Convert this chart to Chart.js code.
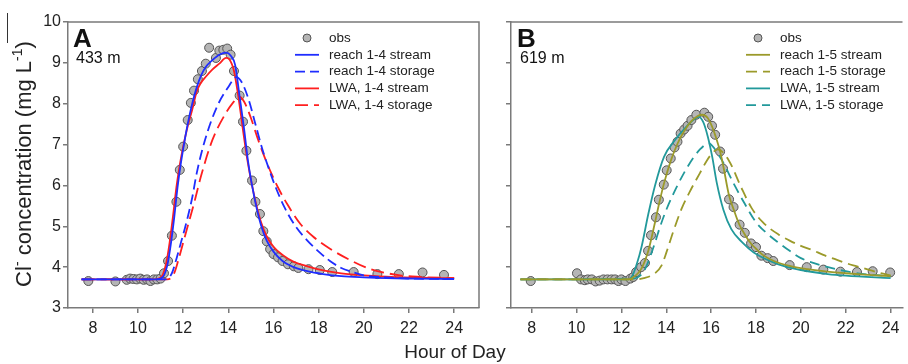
<!DOCTYPE html>
<html>
<head>
<meta charset="utf-8">
<script src="https://cdn.jsdelivr.net/npm/chart.js@4.4.1/dist/chart.umd.min.js"></script>
<style>
  body { margin: 0; background: #fff; width: 908px; height: 364px; overflow: hidden; position: relative;
         font-family: "Liberation Sans", Arial, sans-serif; color: #222; }
  #boxA { position: absolute; left: 0; top: 0; width: 490px; height: 364px; }
  #boxB { position: absolute; left: 490px; top: 0; width: 418px; height: 364px; }
  #ytitle { position: absolute; left: 23px; top: 164px; transform: translate(-50%, -50%) rotate(-90deg);
            font-size: 22px; white-space: nowrap; }
  #ytitle sup { font-size: 14px; }
  #xtitle { position: absolute; left: 455px; top: 352px; transform: translate(-50%, -50%); font-size: 19px; white-space: nowrap; }
  #mark { position: absolute; left: 7px; top: 13px; width: 1px; height: 30px; background: #333; }
</style>
</head>
<body>
<div id="boxA"><canvas id="chartA" width="490" height="364"></canvas></div>
<div id="boxB"><canvas id="chartB" width="418" height="364"></canvas></div>
<div id="ytitle">Cl<sup>-</sup> concentration (mg L<sup>-1</sup>)</div>
<div id="mark"></div>
<div id="xtitle">Hour of Day</div>
<script>
// ---- panel A (433 m) ----
const obsA_hour = [7.8, 9.0, 9.5, 9.65, 9.8, 9.95, 10.1, 10.25, 10.4, 10.55, 10.7, 10.85, 11.0, 11.15, 11.33, 11.5,
  11.7, 11.85, 12.0, 12.2, 12.34, 12.48, 12.65, 12.83, 13.0, 13.15, 13.45, 13.6, 13.78, 13.95, 14.1, 14.25, 14.5,
  14.65, 14.8, 15.05, 15.2, 15.4, 15.55, 15.7, 15.85, 16.0, 16.2, 16.4, 16.64, 16.9, 17.1, 17.55, 18.05, 18.6,
  19.55, 20.6, 21.55, 22.6, 23.55];
const obsA_cl = [3.66, 3.65, 3.69, 3.72, 3.71, 3.7, 3.72, 3.69, 3.7, 3.66, 3.7, 3.7, 3.72, 3.85, 4.15, 4.77,
  5.6, 6.38, 6.95, 7.6, 8.02, 8.32, 8.6, 8.8, 8.98, 9.37, 9.12, 9.3, 9.32, 9.35, 9.2, 8.8, 8.2,
  7.56, 6.85, 6.12, 5.6, 5.3, 4.88, 4.63, 4.44, 4.32, 4.24, 4.15, 4.07, 4.02, 3.98, 3.95, 3.93, 3.88,
  3.88, 3.83, 3.83, 3.87, 3.81];

const reachA_stream_hour = [7.5, 10.8, 11.0, 11.15, 11.3, 11.45, 11.6, 11.75, 11.9, 12.05, 12.2, 12.4, 12.6, 12.8,
  13.0, 13.3, 13.6, 13.9, 14.1, 14.3, 14.5, 14.7, 14.87, 15.05, 15.25, 15.45, 15.7, 16.0, 16.4, 16.9, 17.5, 18.2,
  19, 20, 21, 22.5, 24];
const reachA_stream_cl = [3.7, 3.7, 3.72, 3.8, 4.05, 4.55, 5.2, 5.95, 6.55, 7.05, 7.5, 8.0, 8.4, 8.7,
  8.9, 9.07, 9.2, 9.25, 9.18, 8.95, 8.17, 7.37, 6.6, 6.0, 5.45, 5.02, 4.65, 4.38, 4.15, 4.0, 3.9, 3.83,
  3.78, 3.75, 3.73, 3.72, 3.71];

const reachA_storage_hour = [7.5, 11.2, 11.5, 11.7, 11.9, 12.1, 12.4, 12.6, 12.96, 13.5, 14.0, 14.35, 14.6, 14.9,
  15.2, 15.5, 15.8, 16.1, 16.5, 17.0, 17.5, 18.0, 18.5, 19.0, 19.5, 20.0, 21.0, 22.0, 24.0];
const reachA_storage_cl = [3.7, 3.7, 3.85, 4.2, 4.6, 5.0, 5.7, 6.3, 7.1, 7.93, 8.41, 8.65, 8.52, 8.1,
  7.5, 6.9, 6.4, 5.95, 5.45, 4.98, 4.65, 4.38, 4.15, 3.98, 3.88, 3.8, 3.75, 3.72, 3.71];

const lwaA_stream_hour = [7.5, 10.7, 10.95, 11.1, 11.25, 11.4, 11.55, 11.7, 11.85, 12.0, 12.2, 12.4, 12.6, 12.8,
  13.0, 13.3, 13.6, 13.9, 14.05, 14.25, 14.45, 14.65, 14.85, 15.05, 15.25, 15.45, 15.7, 16.0, 16.4, 16.9, 17.5,
  18.2, 19, 20, 21, 22.5, 24];
const lwaA_stream_cl = [3.7, 3.7, 3.73, 3.82, 4.1, 4.6, 5.25, 5.95, 6.5, 6.95, 7.45, 7.85, 8.3, 8.52,
  8.66, 8.84, 8.98, 9.12, 9.08, 8.8, 8.15, 7.35, 6.6, 6.0, 5.5, 5.1, 4.75, 4.5, 4.3, 4.13, 4.02,
  3.92, 3.85, 3.8, 3.77, 3.74, 3.73];

const lwaA_storage_hour = [7.5, 11.3, 11.6, 11.8, 12.0, 12.2, 12.5, 12.8, 13.3, 13.9, 14.2, 14.47, 14.7, 15.0,
  15.3, 15.6, 15.9, 16.2, 16.6, 17.2, 17.75, 18.5, 19.3, 20.3, 21.6, 22.5, 24.0];
const lwaA_storage_cl = [3.7, 3.7, 3.85, 4.2, 4.6, 5.0, 5.6, 6.25, 7.12, 7.78, 8.02, 8.17, 8.05, 7.65,
  7.15, 6.7, 6.3, 5.95, 5.55, 5.05, 4.75, 4.45, 4.2, 3.95, 3.8, 3.76, 3.73];

// ---- panel B (619 m) ----
const obsB_hour = [7.96, 10.02, 10.2, 10.37, 10.5, 10.68, 10.85, 11.03, 11.2, 11.38, 11.56, 11.72, 11.87, 12.0,
  12.18, 12.4, 12.53, 12.66, 12.88, 13.05, 13.19, 13.32, 13.54, 13.67, 13.89, 14.02, 14.2, 14.37, 14.5, 14.64,
  14.8, 14.95, 15.12, 15.34, 15.7, 15.87, 16.04, 16.18, 16.4, 16.53, 16.8, 17.0, 17.27, 17.5, 17.78, 18.0,
  18.24, 18.52, 18.77, 19.5, 20.26, 21.0, 21.76, 22.5, 23.2, 23.98];
const obsB_cl = [3.66, 3.85, 3.7, 3.68, 3.7, 3.7, 3.65, 3.67, 3.7, 3.7, 3.7, 3.7, 3.66, 3.7,
  3.66, 3.72, 3.76, 3.88, 4.0, 4.1, 4.4, 4.78, 5.22, 5.65, 6.02, 6.37, 6.66, 6.93, 7.07, 7.27,
  7.37, 7.46, 7.6, 7.73, 7.78, 7.68, 7.46, 7.24, 6.83, 6.41, 5.66, 5.47, 5.04, 4.84, 4.58, 4.49,
  4.28, 4.22, 4.15, 4.05, 4.0, 3.94, 3.89, 3.88, 3.9, 3.87];

const reachB_stream_hour = [7.5, 12.3, 12.6, 12.9, 13.2, 13.5, 13.7, 13.9, 14.2, 14.5, 14.8, 15.1, 15.4, 15.6,
  15.85, 16.05, 16.2, 16.4, 16.55, 16.8, 17.0, 17.25, 17.5, 17.8, 18.0, 18.3, 18.8, 19.5, 20.3, 21, 22, 23, 24];
const reachB_stream_cl = [3.7, 3.7, 3.78, 3.97, 4.4, 5.1, 5.6, 6.05, 6.6, 7.02, 7.33, 7.56, 7.7, 7.73,
  7.65, 7.43, 7.2, 6.83, 6.45, 5.75, 5.42, 5.05, 4.8, 4.56, 4.45, 4.3, 4.15, 4.03, 3.95, 3.9, 3.85, 3.81, 3.78];

const reachB_storage_hour = [7.5, 12.5, 13.0, 13.5, 13.8, 14.0, 14.3, 14.7, 15.1, 15.5, 15.8, 16.1, 16.3, 16.8,
  17.3, 17.8, 18.3, 19.0, 19.5, 20.0, 20.5, 21.0, 21.5, 22.0, 22.5, 23.0, 23.5, 24.0];
const reachB_storage_cl = [3.7, 3.7, 3.73, 3.85, 4.05, 4.35, 4.85, 5.45, 5.9, 6.3, 6.6, 6.82, 6.88, 6.6,
  6.0, 5.45, 5.1, 4.8, 4.65, 4.52, 4.42, 4.3, 4.2, 4.1, 4.02, 3.94, 3.86, 3.8];

const lwaB_stream_hour = [7.5, 12.3, 12.5, 12.7, 12.9, 13.2, 13.5, 13.9, 14.4, 14.9, 15.2, 15.45, 15.65, 15.85,
  16.05, 16.25, 16.55, 16.9, 17.4, 17.9, 19, 20, 21.2, 22, 24];
const lwaB_stream_cl = [3.7, 3.7, 3.8, 4.1, 4.5, 5.3, 6.0, 6.7, 7.12, 7.44, 7.6, 7.68, 7.55, 7.2,
  6.7, 6.07, 5.4, 4.93, 4.6, 4.36, 4.07, 3.93, 3.83, 3.79, 3.73];

const lwaB_storage_hour = [7.5, 12.5, 13.0, 13.5, 13.7, 14.0, 14.5, 15.0, 15.5, 15.9, 16.0, 16.5, 17.0, 17.5,
  18.0, 18.5, 19.0, 19.5, 20.0, 21.0, 22.0, 23.0, 24.0];
const lwaB_storage_cl = [3.7, 3.72, 3.9, 4.6, 4.95, 5.4, 6.0, 6.5, 6.88, 7.03, 7.0, 6.6, 6.05, 5.55,
  5.1, 4.82, 4.6, 4.4, 4.22, 4.03, 3.9, 3.82, 3.78];

const yTicks = [3, 4, 5, 6, 7, 8, 9, 10];
const xTicks = [8, 10, 12, 14, 16, 18, 20, 22, 24];

const BLUE = "#1f2dff", RED = "#ff1f1f", OLIVE = "#9b9a2a", TEAL = "#22999b";
const AXIS = "#7a7a7a";

Chart.defaults.font.family = '"Liberation Sans", Arial, sans-serif';
Chart.defaults.color = "#222";

function pts(xs, ys) {
  return xs.map((x, i) => ({ x: x, y: ys[i] }));
}

function obsSet(label, xs, ys) {
  return {
    label: label, data: pts(xs, ys), showLine: false, order: 1,
    pointRadius: 4.5, pointHoverRadius: 4.5, pointBackgroundColor: "#b5b5b5",
    pointBorderColor: "#555", pointBorderWidth: 1
  };
}

function lineSet(label, xs, ys, color, dash) {
  return {
    label: label, data: pts(xs, ys), order: 0,
    borderColor: color, borderWidth: 1.8, borderDash: dash || [],
    pointRadius: 0, cubicInterpolationMode: "monotone", fill: false
  };
}

// frame, panel letter and legend
const decor = {
  id: "decor",
  afterDraw(chart, args, o) {
    const ctx = chart.ctx, a = chart.chartArea;
    ctx.save();
    ctx.strokeStyle = AXIS;
    ctx.lineWidth = 1.5;
    ctx.beginPath();
    ctx.moveTo(a.left, a.top);
    ctx.lineTo(a.right, a.top);
    if (o.rightBorder) ctx.lineTo(a.right, a.bottom);
    ctx.stroke();

    ctx.fillStyle = "#111";
    ctx.textBaseline = "alphabetic";
    ctx.font = 'bold 26px "Liberation Sans", Arial, sans-serif';
    ctx.fillText(o.letter, o.letterX, 47);
    ctx.font = '16px "Liberation Sans", Arial, sans-serif';
    ctx.fillText(o.dist, o.letterX + 3, 63);

    ctx.font = '13.5px "Liberation Sans", Arial, sans-serif';
    ctx.textBaseline = "middle";
    chart.data.datasets.forEach((ds, i) => {
      const y = 38 + i * 16.8;
      if (ds.showLine === false) {
        ctx.beginPath();
        ctx.arc(o.legX + 12, y, 4, 0, Math.PI * 2);
        ctx.fillStyle = "#b5b5b5";
        ctx.fill();
        ctx.strokeStyle = "#555";
        ctx.lineWidth = 1;
        ctx.stroke();
      } else {
        ctx.beginPath();
        ctx.setLineDash(ds.borderDash);
        ctx.strokeStyle = ds.borderColor;
        ctx.lineWidth = 1.8;
        ctx.moveTo(o.legX, y);
        ctx.lineTo(o.legX + 24, y);
        ctx.stroke();
        ctx.setLineDash([]);
      }
      ctx.fillStyle = "#222";
      ctx.fillText(ds.label, o.legX + 34, y);
    });
    ctx.restore();
  }
};

function makeChart(id, datasets, cfg) {
  return new Chart(document.getElementById(id), {
    type: "line",
    data: { datasets: datasets },
    plugins: [decor],
    options: {
      responsive: false,
      animation: false,
      layout: { padding: { top: 22, right: cfg.padRight, left: 0, bottom: 0 } },
      plugins: {
        legend: { display: false },
        tooltip: { enabled: false },
        decor: cfg.decor
      },
      scales: {
        x: {
          type: "linear", min: cfg.xmin, max: cfg.xmax,
          afterBuildTicks: s => { s.ticks = xTicks.map(v => ({ value: v })); },
          afterFit: s => { s.height = 56; },
          ticks: { font: { size: 16 }, padding: 6, maxRotation: 0 },
          grid: { drawOnChartArea: false, drawTicks: true, tickLength: 5, color: AXIS, lineWidth: 1.5 },
          border: { color: AXIS, width: 1.5 }
        },
        y: {
          min: 3, max: 10,
          afterBuildTicks: s => { s.ticks = yTicks.map(v => ({ value: v })); },
          afterFit: s => { s.width = cfg.yWidth; },
          ticks: {
            font: { size: 16 }, padding: 2,
            callback: v => cfg.yLabels ? String(v) : ""
          },
          grid: { drawOnChartArea: false, drawTicks: true, tickLength: 5, color: AXIS, lineWidth: 1.5 },
          border: { color: AXIS, width: 1.5 }
        }
      }
    }
  });
}

makeChart("chartA", [
  obsSet("obs", obsA_hour, obsA_cl),
  lineSet("reach 1-4 stream", reachA_stream_hour, reachA_stream_cl, BLUE),
  lineSet("reach 1-4 storage", reachA_storage_hour, reachA_storage_cl, BLUE, [10, 5]),
  lineSet("LWA, 1-4 stream", lwaA_stream_hour, lwaA_stream_cl, RED),
  lineSet("LWA, 1-4 storage", lwaA_storage_hour, lwaA_storage_cl, RED, [13, 6])
], {
  xmin: 6.9, xmax: 25.1, padRight: 11, yWidth: 68, yLabels: true,
  decor: { letter: "A", dist: "433 m", letterX: 73, legX: 295, rightBorder: true }
});

makeChart("chartB", [
  obsSet("obs", obsB_hour, obsB_cl),
  lineSet("reach 1-5 stream", reachB_stream_hour, reachB_stream_cl, OLIVE),
  lineSet("reach 1-5 storage", reachB_storage_hour, reachB_storage_cl, OLIVE, [11, 6]),
  lineSet("LWA, 1-5 stream", lwaB_stream_hour, lwaB_stream_cl, TEAL),
  lineSet("LWA, 1-5 storage", lwaB_storage_hour, lwaB_storage_cl, TEAL, [10, 6])
], {
  xmin: 7.08, xmax: 24.53, padRight: 0, yWidth: 21, yLabels: false,
  decor: { letter: "B", dist: "619 m", letterX: 27, legX: 256, rightBorder: false }
});
</script>
</body>
</html>
